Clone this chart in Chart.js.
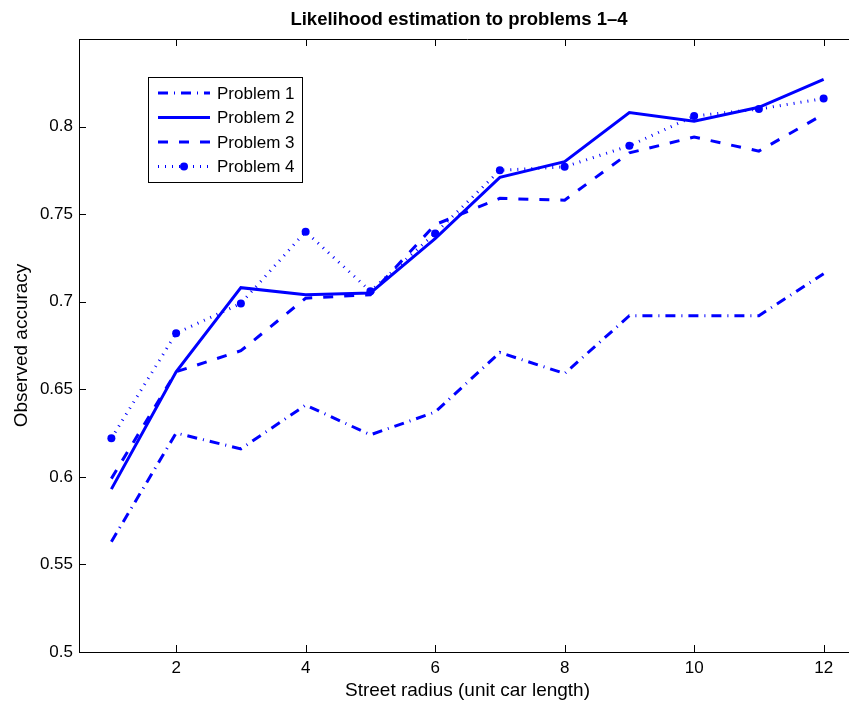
<!DOCTYPE html>
<html>
<head>
<meta charset="utf-8">
<script src="https://cdn.jsdelivr.net/npm/chart.js@4.4.0/dist/chart.umd.min.js"></script>
<style>
html, body { margin: 0; padding: 0; background: #fff; overflow: hidden; }
#wrap { width: 860px; height: 707px; }
</style>
</head>
<body>
<div id="wrap"><canvas id="myChart" width="860" height="707"></canvas></div>
<script>
// Data
const radius = [1, 2, 3, 4, 5, 6, 7, 8, 9, 10, 11, 12];
const problem1 = [0.563, 0.625, 0.616, 0.641, 0.624, 0.637, 0.671, 0.659, 0.692, 0.692, 0.692, 0.716];
const problem2 = [0.593, 0.660, 0.708, 0.704, 0.705, 0.736, 0.771, 0.780, 0.808, 0.803, 0.811, 0.827];
const problem3 = [0.599, 0.660, 0.672, 0.702, 0.704, 0.744, 0.759, 0.758, 0.785, 0.794, 0.786, 0.807];
const problem4 = [0.622, 0.682, 0.699, 0.740, 0.706, 0.739, 0.775, 0.777, 0.789, 0.806, 0.810, 0.816];
const seriesNames = ['Problem 1', 'Problem 2', 'Problem 3', 'Problem 4'];
const xTicks = [2, 4, 6, 8, 10, 12];
const yTicks = [0.5, 0.55, 0.6, 0.65, 0.7, 0.75, 0.8];

const FONT = "'Liberation Sans', Arial, sans-serif";
const BLUE = '#0000ff';

function pairs(vals) {
    return radius.map((r, i) => ({ x: r, y: vals[i] }));
}

// line styles, matlab like
const styles = [
    { dash: [10, 6, 1, 6], width: 3, marker: 0 },
    { dash: [], width: 3, marker: 0 },
    { dash: [10, 11], width: 3, marker: 0 },
    { dash: [1, 6], width: 3, marker: 4 }
];

const allSeries = [problem1, problem2, problem3, problem4];

// Title centred over the axes box
const titlePlugin = {
    id: 'matTitle',
    afterDraw(chart) {
        const ctx = chart.ctx;
        ctx.save();
        ctx.fillStyle = '#000';
        ctx.font = 'bold 18.5px ' + FONT;
        ctx.textAlign = 'center';
        ctx.textBaseline = 'middle';
        ctx.fillText('Likelihood estimation to problems 1\u20134', 459, 20);
        ctx.restore();
    }
};

// Inward ticks and top border
const boxPlugin = {
    id: 'matBox',
    afterDraw(chart) {
        const ctx = chart.ctx;
        const a = chart.chartArea;
        const xs = chart.scales.x, ys = chart.scales.y;
        ctx.save();
        ctx.strokeStyle = '#000';
        ctx.lineWidth = 1;
        ctx.beginPath();
        ctx.moveTo(a.left, a.top + 0.5);
        ctx.lineTo(a.right, a.top + 0.5);
        xTicks.forEach(v => {
            const px = Math.round(xs.getPixelForValue(v)) + 0.5;
            ctx.moveTo(px, a.bottom); ctx.lineTo(px, a.bottom - 7);
            ctx.moveTo(px, a.top); ctx.lineTo(px, a.top + 7);
        });
        yTicks.forEach(v => {
            const py = Math.round(ys.getPixelForValue(v)) + 0.5;
            ctx.moveTo(a.left, py); ctx.lineTo(a.left + 7, py);
            ctx.moveTo(a.right, py); ctx.lineTo(a.right - 7, py);
        });
        ctx.stroke();
        ctx.restore();
    }
};

// Legend box inside the axes
const legendPlugin = {
    id: 'matLegend',
    afterDraw(chart) {
        const ctx = chart.ctx;
        ctx.save();
        ctx.fillStyle = '#fff';
        ctx.fillRect(148.5, 77.5, 154, 105);
        ctx.strokeStyle = '#000';
        ctx.lineWidth = 1;
        ctx.strokeRect(148.5, 77.5, 154, 105);
        ctx.font = '17px ' + FONT;
        ctx.textBaseline = 'middle';
        seriesNames.forEach((name, i) => {
            const y = 93 + i * 24.5;
            const st = styles[i];
            ctx.strokeStyle = BLUE;
            ctx.lineWidth = st.width;
            ctx.setLineDash(st.dash);
            ctx.beginPath();
            ctx.moveTo(158, y);
            ctx.lineTo(210, y);
            ctx.stroke();
            ctx.setLineDash([]);
            if (st.marker) {
                ctx.fillStyle = BLUE;
                ctx.beginPath();
                ctx.arc(184, y, st.marker, 0, Math.PI * 2);
                ctx.fill();
            }
            ctx.fillStyle = '#000';
            ctx.fillText(name, 217, y + 1);
        });
        ctx.restore();
    }
};

const ctx = document.getElementById('myChart').getContext('2d');
new Chart(ctx, {
    type: 'line',
    data: {
        datasets: allSeries.map((vals, i) => ({
            label: seriesNames[i],
            data: pairs(vals),
            borderColor: BLUE,
            backgroundColor: BLUE,
            borderWidth: styles[i].width,
            borderDash: styles[i].dash,
            pointRadius: styles[i].marker,
            pointBorderWidth: 0,
            pointHoverRadius: styles[i].marker,
            tension: 0,
            fill: false
        }))
    },
    options: {
        responsive: false,
        animation: false,
        layout: { padding: { top: 39, right: 4, left: 0, bottom: 0 } },
        plugins: {
            legend: { display: false },
            title: { display: false },
            tooltip: { enabled: false }
        },
        scales: {
            x: {
                type: 'linear',
                min: 0.5,
                max: 12.5,
                afterBuildTicks: s => { s.ticks = xTicks.map(v => ({ value: v })); },
                afterFit: s => { s.height = 55; },
                grid: { display: false, drawTicks: false },
                border: { display: true, color: '#000', width: 1 },
                ticks: { color: '#000', font: { family: FONT, size: 17 }, padding: 6, maxRotation: 0,
                         callback: v => String(v) },
                title: { display: true, text: 'Street radius (unit car length)', color: '#000',
                         font: { family: FONT, size: 19 }, padding: { top: 0, bottom: 5 } }
            },
            y: {
                min: 0.5,
                max: 0.85,
                afterBuildTicks: s => { s.ticks = yTicks.map(v => ({ value: v })); },
                afterFit: s => { s.width = 79; },
                grid: { display: false, drawTicks: false },
                border: { display: true, color: '#000', width: 1 },
                ticks: { color: '#000', font: { family: FONT, size: 17 }, padding: 6,
                         callback: v => String(v) },
                title: { display: true, text: 'Observed accuracy', color: '#000',
                         font: { family: FONT, size: 19 }, padding: { top: 10, bottom: 0 } }
            }
        }
    },
    plugins: [titlePlugin, boxPlugin, legendPlugin]
});
</script>
</body>
</html>
